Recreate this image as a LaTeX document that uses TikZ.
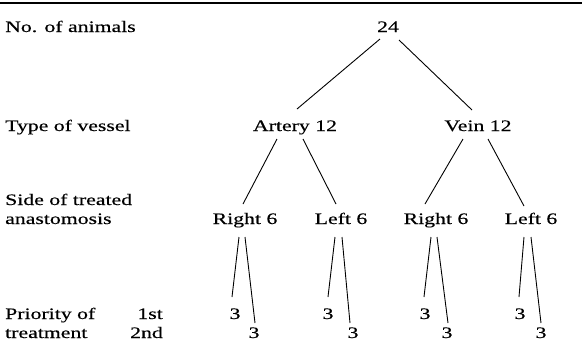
\documentclass[tikz,border=0pt]{standalone}
\usepackage{fontspec}
\setmainfont[FakeStretch=1.36,FakeBold=0.4]{Liberation Serif}
\usetikzlibrary{calc}
\begin{document}
\begin{tikzpicture}[x=1pt,y=-1pt,
  lab/.style={anchor=base west,inner sep=0pt,font=\fontsize{16}{18}\selectfont},
  val/.style={anchor=base,inner sep=0pt,font=\fontsize{16}{18}\selectfont},
  con/.style={line width=0.9pt}]
\useasboundingbox (0,0) rectangle (582,354);
\draw[line width=1.4pt] (0,3) -- (582,3);
% left labels
\node[lab] (l1) at (5,32) {No. of animals};
\node[lab] (l2) at (5,131) {Type of vessel};
\node[lab] (l3a) at (5,205) {Side of treated};
\node[lab] (l3b) at (5,224) {anastomosis};
\node[lab] (l4a) at (5,319) {Priority of};
\node[lab] (l4b) at (5,338) {treatment};
\node[val,anchor=base east] (p1) at (163,319) {1st};
\node[val,anchor=base east] (p2) at (163,338) {2nd};
% tree
\node[val] (n24) at (388,32) {24};
\node[val] (art) at (295,131) {Artery 12};
\node[val] (vein) at (478,131) {Vein 12};
\node[val] (r1) at (245,224) {Right 6};
\node[val] (f1) at (341,224) {Left 6};
\node[val] (r2) at (436,224) {Right 6};
\node[val] (f2) at (531,224) {Left 6};
\node[val] (a1) at (235,319) {3};
\node[val] (b1) at (254,338) {3};
\node[val] (a2) at (328,319) {3};
\node[val] (b2) at (353,338) {3};
\node[val] (a3) at (425,319) {3};
\node[val] (b3) at (447,338) {3};
\node[val] (a4) at (520,319) {3};
\node[val] (b4) at (541,338) {3};
% connectors
\draw[con] ($(n24.base)+(-8,7)$) -- ($(art.base)+(2,-22)$);
\draw[con] ($(n24.base)+(11,8)$) -- ($(vein.base)+(-6,-21)$);
\draw[con] ($(art.base)+(-18,8)$) -- ($(r1.base)+(-2,-20)$);
\draw[con] ($(art.base)+(8,8)$) -- ($(f1.base)+(-5,-20)$);
\draw[con] ($(vein.base)+(-15,8)$) -- ($(r2.base)+(-11,-20)$);
\draw[con] ($(vein.base)+(10,8)$) -- ($(f2.base)+(-7,-18)$);
\draw[con] ($(r1.base)+(-6,13)$) -- ($(a1.base)+(-3,-22)$);
\draw[con] ($(r1.base)+(0,13)$) -- ($(b1.base)+(1,-15)$);
\draw[con] ($(f1.base)+(-6,13)$) -- ($(a2.base)+(0,-22)$);
\draw[con] ($(f1.base)+(1,13)$) -- ($(b2.base)+(-3,-15)$);
\draw[con] ($(r2.base)+(-5,13)$) -- ($(a3.base)+(-1,-22)$);
\draw[con] ($(r2.base)+(1,13)$) -- ($(b3.base)+(1,-15)$);
\draw[con] ($(f2.base)+(-7,13)$) -- ($(a4.base)+(-1,-22)$);
\draw[con] ($(f2.base)+(0,13)$) -- ($(b4.base)+(0,-15)$);
\end{tikzpicture}
\end{document}
